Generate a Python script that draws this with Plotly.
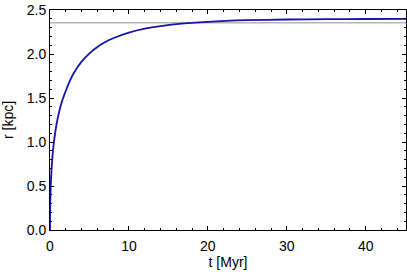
import plotly.graph_objects as go

t_myr = [0, 0.01, 0.05, 0.1, 0.2, 0.35, 0.5, 0.75, 1.0, 1.5, 2.0, 2.5, 3.0, 4.0, 5.0, 6.0, 7.0, 8.0,
         10.0, 12.0, 14.0, 17.0, 20.0, 25.0, 30.0, 35.0, 40.0, 45.5]
r_kpc = [0, 0.175, 0.376, 0.514, 0.693, 0.871, 1.0, 1.159, 1.279, 1.457, 1.58, 1.691, 1.781, 1.913, 2.008,
         2.08, 2.136, 2.179, 2.242, 2.287, 2.317, 2.347, 2.366, 2.384, 2.392, 2.396, 2.398, 2.40]
r_ref = 2.356
x_range = [0, 45.1]
y_range = [0, 2.5]

fig = go.Figure()
fig.add_trace(go.Scatter(x=x_range, y=[r_ref, r_ref], mode="lines",
                         line=dict(color="#b4b4b4", width=1.5), hoverinfo="skip"))
fig.add_trace(go.Scatter(x=t_myr, y=r_kpc, mode="lines",
                         line=dict(color="#1414a8", width=1.8, shape="spline", smoothing=0.8)))

axis_common = dict(showgrid=False, zeroline=False, showline=True, linecolor="black",
                   linewidth=1, mirror="ticks", ticks="inside", ticklen=4, tickcolor="black",
                   tickfont=dict(size=14, color="black"), automargin=False)
fig.update_xaxes(range=x_range, dtick=10, tick0=0, ticklabelstandoff=3,
                 minor=dict(dtick=2, ticks="inside", ticklen=2, tickcolor="black"),
                 title=dict(text="t [Myr]", font=dict(size=14, color="black"), standoff=3),
                 **axis_common)
fig.update_yaxes(range=y_range, dtick=0.5, tick0=0, tickformat=".1f",
                 minor=dict(dtick=0.1, ticks="inside", ticklen=2, tickcolor="black"),
                 title=dict(text="r [kpc]", font=dict(size=14, color="black"), standoff=10),
                 **axis_common)
fig.update_layout(width=407, height=279, margin=dict(l=50, r=1, t=10, b=49),
                  paper_bgcolor="white", plot_bgcolor="white", showlegend=False,
                  font=dict(family="Liberation Sans, Arial, sans-serif", color="black"))
fig.write_html("out.html", config={"displayModeBar": False},
               post_script="document.body.style.margin='0';document.body.style.overflow='hidden';")
